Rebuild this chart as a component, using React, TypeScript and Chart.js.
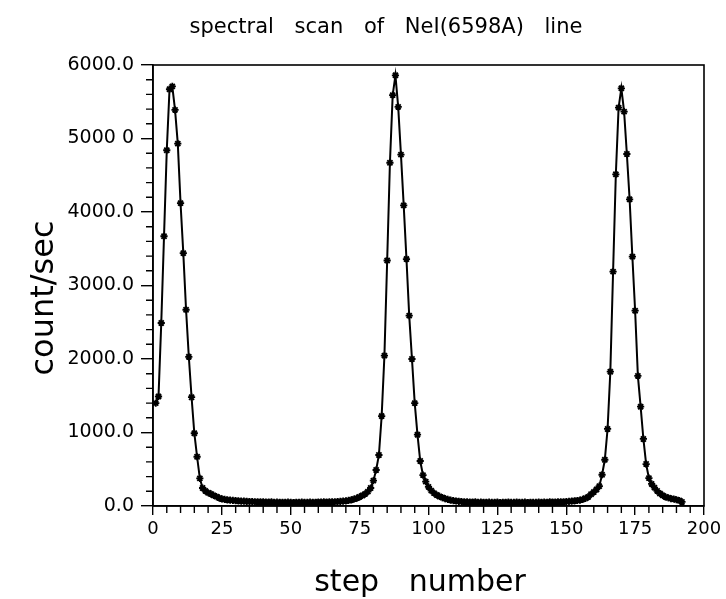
import React, { useEffect, useRef } from "react";
import { Chart, registerables } from "chart.js";

Chart.register(...registerables);

const TITLE = "spectral scan of NeI(6598A) line";
const X_TITLE = "step number";
const Y_TITLE = "count/sec";

const FIRST_STEP = 1;

// counts per step (steps 1..192)
const counts001_020 = [1400, 1490, 2490, 3670, 4840, 5670, 5710, 5390, 4930, 4120, 3440, 2670, 2030, 1480, 990, 670, 376, 245, 205, 180];
const counts021_040 = [165, 145, 127, 110, 96, 90, 84, 80, 76, 72, 70, 67, 65, 63, 61, 60, 58, 57, 56, 55];
const counts041_060 = [54, 52, 55, 50, 53, 49, 51, 48, 52, 50, 47, 51, 49, 53, 48, 50, 52, 49, 51, 54];
const counts061_080 = [52, 55, 53, 57, 56, 58, 60, 62, 66, 70, 76, 84, 95, 108, 125, 143, 165, 195, 245, 345];
const counts081_100 = [490, 694, 1224, 2045, 3340, 4670, 5590, 5860, 5430, 4780, 4090, 3360, 2590, 2000, 1400, 970, 612, 420, 331, 260];
const counts101_120 = [210, 175, 150, 130, 115, 100, 90, 80, 73, 68, 64, 60, 57, 55, 54, 52, 55, 50, 53, 51];
const counts121_140 = [49, 52, 48, 50, 53, 47, 51, 49, 52, 50, 48, 53, 50, 49, 52, 47, 51, 50, 48, 52];
const counts141_160 = [50, 53, 51, 55, 52, 54, 55, 57, 56, 60, 63, 66, 70, 75, 80, 90, 105, 125, 160, 190];
const counts161_180 = [225, 270, 425, 629, 1048, 1827, 3188, 4513, 5420, 5683, 5365, 4789, 4173, 3392, 2657, 1771, 1351, 912, 571, 380];
const counts181_192 = [300, 250, 205, 170, 145, 125, 112, 100, 95, 85, 75, 55];

const counts = [
  ...counts001_020, ...counts021_040, ...counts041_060, ...counts061_080, ...counts081_100,
  ...counts101_120, ...counts121_140, ...counts141_160, ...counts161_180, ...counts181_192,
];

const X_MIN = 0;
const X_MAX = 200;
const X_MAJOR = 25;
const X_MINOR = 5;
const Y_MIN = 0;
const Y_MAX = 6000;
const Y_MAJOR = 1000;
const Y_MINOR = 200;

const yTickValues = [0, 1000, 2000, 3000, 4000, 5000, 6000];
const yTickLabels = ["0.0", "1000.0", "2000.0", "3000.0", "4000.0", "5000 0", "6000.0"];

const FONT = '"DejaVu Sans", sans-serif';

export default function App() {
  const ref = useRef<HTMLCanvasElement | null>(null);

  useEffect(() => {
    if (!ref.current) return;
    const data = counts.map((c, i) => ({ x: FIRST_STEP + i, y: c }));

    const decor = {
      id: "decor",
      afterDraw(chart: any) {
        const { ctx, chartArea, scales } = chart;
        const xs = scales.x;
        const ys = scales.y;
        ctx.save();
        ctx.strokeStyle = "#000";
        ctx.lineWidth = 1.4;
        ctx.beginPath();
        for (let v = Y_MIN; v <= Y_MAX; v += Y_MINOR) {
          if (v % Y_MAJOR === 0) continue;
          const py = ys.getPixelForValue(v);
          ctx.moveTo(chartArea.left - 7, py);
          ctx.lineTo(chartArea.left, py);
        }
        for (let v = X_MIN; v <= X_MAX; v += X_MINOR) {
          if (v % X_MAJOR === 0) continue;
          const px = xs.getPixelForValue(v);
          ctx.moveTo(px, chartArea.bottom);
          ctx.lineTo(px, chartArea.bottom + 7);
        }
        ctx.stroke();
        ctx.lineWidth = 1.6;
        ctx.strokeRect(chartArea.left, chartArea.top, chartArea.right - chartArea.left, chartArea.bottom - chartArea.top);

        ctx.fillStyle = "#000";
        ctx.textAlign = "center";
        // chart title
        ctx.font = `21px ${FONT}`;
        (ctx as any).wordSpacing = "14px";
        ctx.textBaseline = "alphabetic";
        ctx.fillText(TITLE, 386, 33);
        // x-axis title
        ctx.font = `30px ${FONT}`;
        (ctx as any).wordSpacing = "20px";
        ctx.textBaseline = "middle";
        ctx.fillText(X_TITLE, 420, 583);
        // y-axis title
        (ctx as any).wordSpacing = "0px";
        ctx.font = `32px ${FONT}`;
        ctx.translate(45, 298);
        ctx.rotate(-Math.PI / 2);
        ctx.fillText(Y_TITLE, 0, 0);
        ctx.restore();
      },
    };

    const chart = new Chart(ref.current, {
      type: "line",
      data: {
        datasets: [
          {
            data,
            borderColor: "#000",
            backgroundColor: "#000",
            borderWidth: 2,
            pointStyle: "star",
            pointRadius: 3.6,
            pointBorderWidth: 1.8,
            pointBorderColor: "#000",
            pointBackgroundColor: "#000",
            tension: 0,
            fill: false,
          },
        ],
      },
      options: {
        animation: false,
        responsive: false,
        events: [],
        layout: { padding: { top: 65, right: 22, left: 0, bottom: 0 } },
        plugins: { legend: { display: false }, title: { display: false }, tooltip: { enabled: false } },
        scales: {
          x: {
            type: "linear",
            min: X_MIN,
            max: X_MAX,
            afterFit: (s: any) => { s.height = 93; },
            ticks: {
              stepSize: X_MAJOR,
              color: "#000",
              padding: 4,
              font: { family: FONT, size: 18 },
              maxRotation: 0,
              callback: (v: any) => String(v),
            },
            grid: { drawOnChartArea: false, drawTicks: true, tickLength: 9, color: "#000", lineWidth: 1.4 },
            border: { display: true, color: "#000", width: 1.6 },
            title: { display: false, text: X_TITLE },
          },
          y: {
            type: "linear",
            min: Y_MIN,
            max: Y_MAX,
            afterFit: (s: any) => { s.width = 153; },
            afterBuildTicks: (s: any) => { s.ticks = yTickValues.map((v) => ({ value: v })); },
            ticks: {
              color: "#000",
              padding: 7,
              font: { family: FONT, size: 19 },
              callback: (v: any) => {
                const i = yTickValues.indexOf(Number(v));
                return i >= 0 ? yTickLabels[i] : "";
              },
            },
            grid: { drawOnChartArea: false, drawTicks: true, tickLength: 12, color: "#000", lineWidth: 1.4 },
            border: { display: true, color: "#000", width: 1.6 },
            title: { display: false, text: Y_TITLE },
          },
        },
      },
      plugins: [decor],
    });
    return () => chart.destroy();
  }, []);

  return (
    <div style={{ position: "absolute", left: 0, top: 0, width: 726, height: 599, background: "#fff" }}>
      <canvas ref={ref} width={726} height={599} style={{ display: "block" }} />
    </div>
  );
}
